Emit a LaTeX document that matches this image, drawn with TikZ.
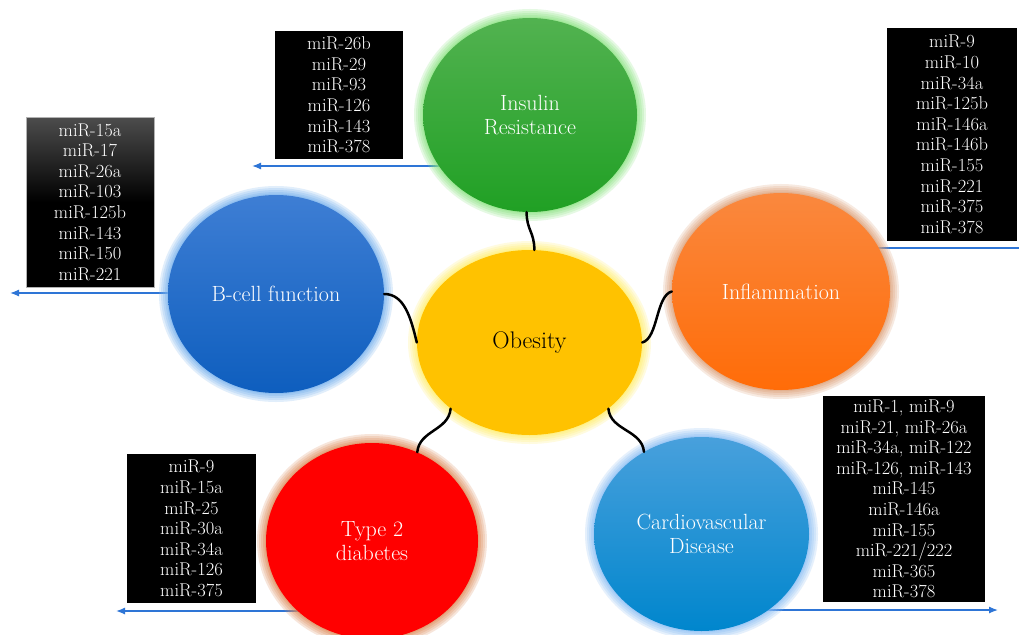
\documentclass[tikz,border=0pt]{standalone}
\usepackage{fontspec}
\usetikzlibrary{shapes.geometric, arrows.meta, backgrounds}

\definecolor{greentop}{RGB}{82,178,80}
\definecolor{greenbot}{RGB}{32,160,36}
\definecolor{greenglow}{RGB}{140,228,130}
\definecolor{bluetop}{RGB}{62,126,212}
\definecolor{bluebot}{RGB}{14,94,190}
\definecolor{blueglow}{RGB}{120,178,238}
\definecolor{yellowcore}{RGB}{255,194,0}
\definecolor{yellowglow}{RGB}{255,240,110}
\definecolor{orangetop}{RGB}{250,136,62}
\definecolor{orangebot}{RGB}{255,108,8}
\definecolor{orangeglow}{RGB}{222,160,120}
\definecolor{redcore}{RGB}{255,0,0}
\definecolor{redglow}{RGB}{222,140,90}
\definecolor{cyantop}{RGB}{72,160,220}
\definecolor{cyanbot}{RGB}{0,134,205}
\definecolor{cyanglow}{RGB}{140,190,245}
\definecolor{arrowblue}{RGB}{46,117,214}

\begin{document}
\begin{tikzpicture}[x=1pt, y=-1pt]
  %tikz%
  % Obesity and its miRNAs
  %tikz%
    \tikzset{
      blob/.style={ellipse, inner sep=0pt, align=center, text=white,
        font=\fontsize{22}{24}\selectfont},
      halo/.style={preaction={draw=#1, line width=18pt, opacity=0.22},
        preaction={draw=#1, line width=14pt, opacity=0.22},
        preaction={draw=#1, line width=10pt, opacity=0.25},
        preaction={draw=#1, line width=6pt, opacity=0.3},
        preaction={draw=#1, line width=2.5pt, opacity=0.4}},
      mirlist/.style={fill=black, text=white, align=center, inner sep=0pt,
        font=\fontsize{18.5}{20.6}\selectfont},
      link/.style={line width=2.5pt, line cap=round},
      arrowline/.style={draw=arrowblue, line width=1.3pt,
        -{Latex[length=9pt, width=7pt]}}
    }

    \useasboundingbox (0,0) rectangle (1019,634);

    % the six discs
    \node[blob, halo=greenglow, top color=greentop, bottom color=greenbot,
      minimum width=214pt, minimum height=194pt] (insulin) at (530,115)
      {Insulin\\Resistance};
    \node[blob, halo=blueglow, top color=bluetop, bottom color=bluebot,
      minimum width=216pt, minimum height=198pt] (bcell) at (276,294)
      {B-cell function};
    \node[blob, halo=orangeglow, top color=orangetop, bottom color=orangebot,
      minimum width=218pt, minimum height=197pt] (inflam) at (781,291.5)
      {Inflammation};
    \node[blob, halo=redglow, fill=redcore,
      minimum width=212pt, minimum height=196pt] (t2d) at (372,541)
      {Type 2\\diabetes};
    \node[blob, halo=cyanglow, top color=cyantop, bottom color=cyanbot,
      minimum width=215pt, minimum height=194pt] (cvd) at (701.5,534)
      {Cardiovascular\\Disease};
    \node[blob, halo=yellowglow, fill=yellowcore, text=black,
      font=\fontsize{24}{26}\selectfont,
      minimum width=225pt, minimum height=185pt] (obesity) at (529.5,342.5)
      {Obesity};

    % wavy links to the centre
    \draw[link] (insulin.-92) .. controls +(0,18) and +(0,-18) .. (obesity.87);
    \draw[link] (bcell.east) .. controls +(20,0) and +(-6,-25) .. (obesity.west);
    \draw[link] (obesity.east) .. controls +(16,-4) and +(-16,4) .. (inflam.west);
    \draw[link] (obesity.220) .. controls +(-2,22) and +(2,-22) .. (t2d.63);
    \draw[link] (obesity.-40) .. controls +(2,22) and +(-2,-22) .. (cvd.125);

    % miRNA lists
    \node[mirlist, minimum width=128pt, minimum height=128pt] (insulinlist)
      at (339,95)
      {miR-26b\\miR-29\\miR-93\\miR-126\\miR-143\\miR-378};
    \node[mirlist, draw=gray!60, top color=black!70, bottom color=black,
      middle color=black, minimum width=128pt, minimum height=170pt]
      (bcelllist) at (90,202)
      {miR-15a\\miR-17\\miR-26a\\miR-103\\miR-125b\\miR-143\\miR-150\\miR-221};
    \node[mirlist, minimum width=130pt, minimum height=213pt] (inflamlist)
      at (952,134.5)
      {miR-9\\miR-10\\miR-34a\\miR-125b\\miR-146a\\miR-146b\\miR-155\\miR-221\\miR-375\\miR-378};
    \node[mirlist, minimum width=162pt, minimum height=206pt] (cvdlist)
      at (904,499)
      {miR-1, miR-9\\miR-21, miR-26a\\miR-34a, miR-122\\miR-126, miR-143\\miR-145\\miR-146a\\miR-155\\miR-221/222\\miR-365\\miR-378};
    \node[mirlist, minimum width=129pt, minimum height=149pt] (t2dlist)
      at (191.5,528.5)
      {miR-9\\miR-15a\\miR-25\\miR-30a\\miR-34a\\miR-126\\miR-375};

    % blue arrows, drawn under the discs
    \coordinate (insulinend) at (252,166);
    \coordinate (bcellend) at (10,293);
    \coordinate (t2dend) at (116,611);
    \coordinate (cvdend) at (998,610);
    \coordinate (inflamend) at (1019,248);
    \begin{scope}[on background layer]
      \fill[white] (0,0) rectangle (1019,634);
      \foreach \from/\to in {insulin/insulinend, bcell/bcellend,
        t2d/t2dend, cvd/cvdend}{
        \draw[arrowline] (\from.center |- \to) -- (\to);
      }
      \draw[arrowline, -] (inflam.center |- inflamend) -- (inflamend);
    \end{scope}

  \end{tikzpicture}
\end{document}
